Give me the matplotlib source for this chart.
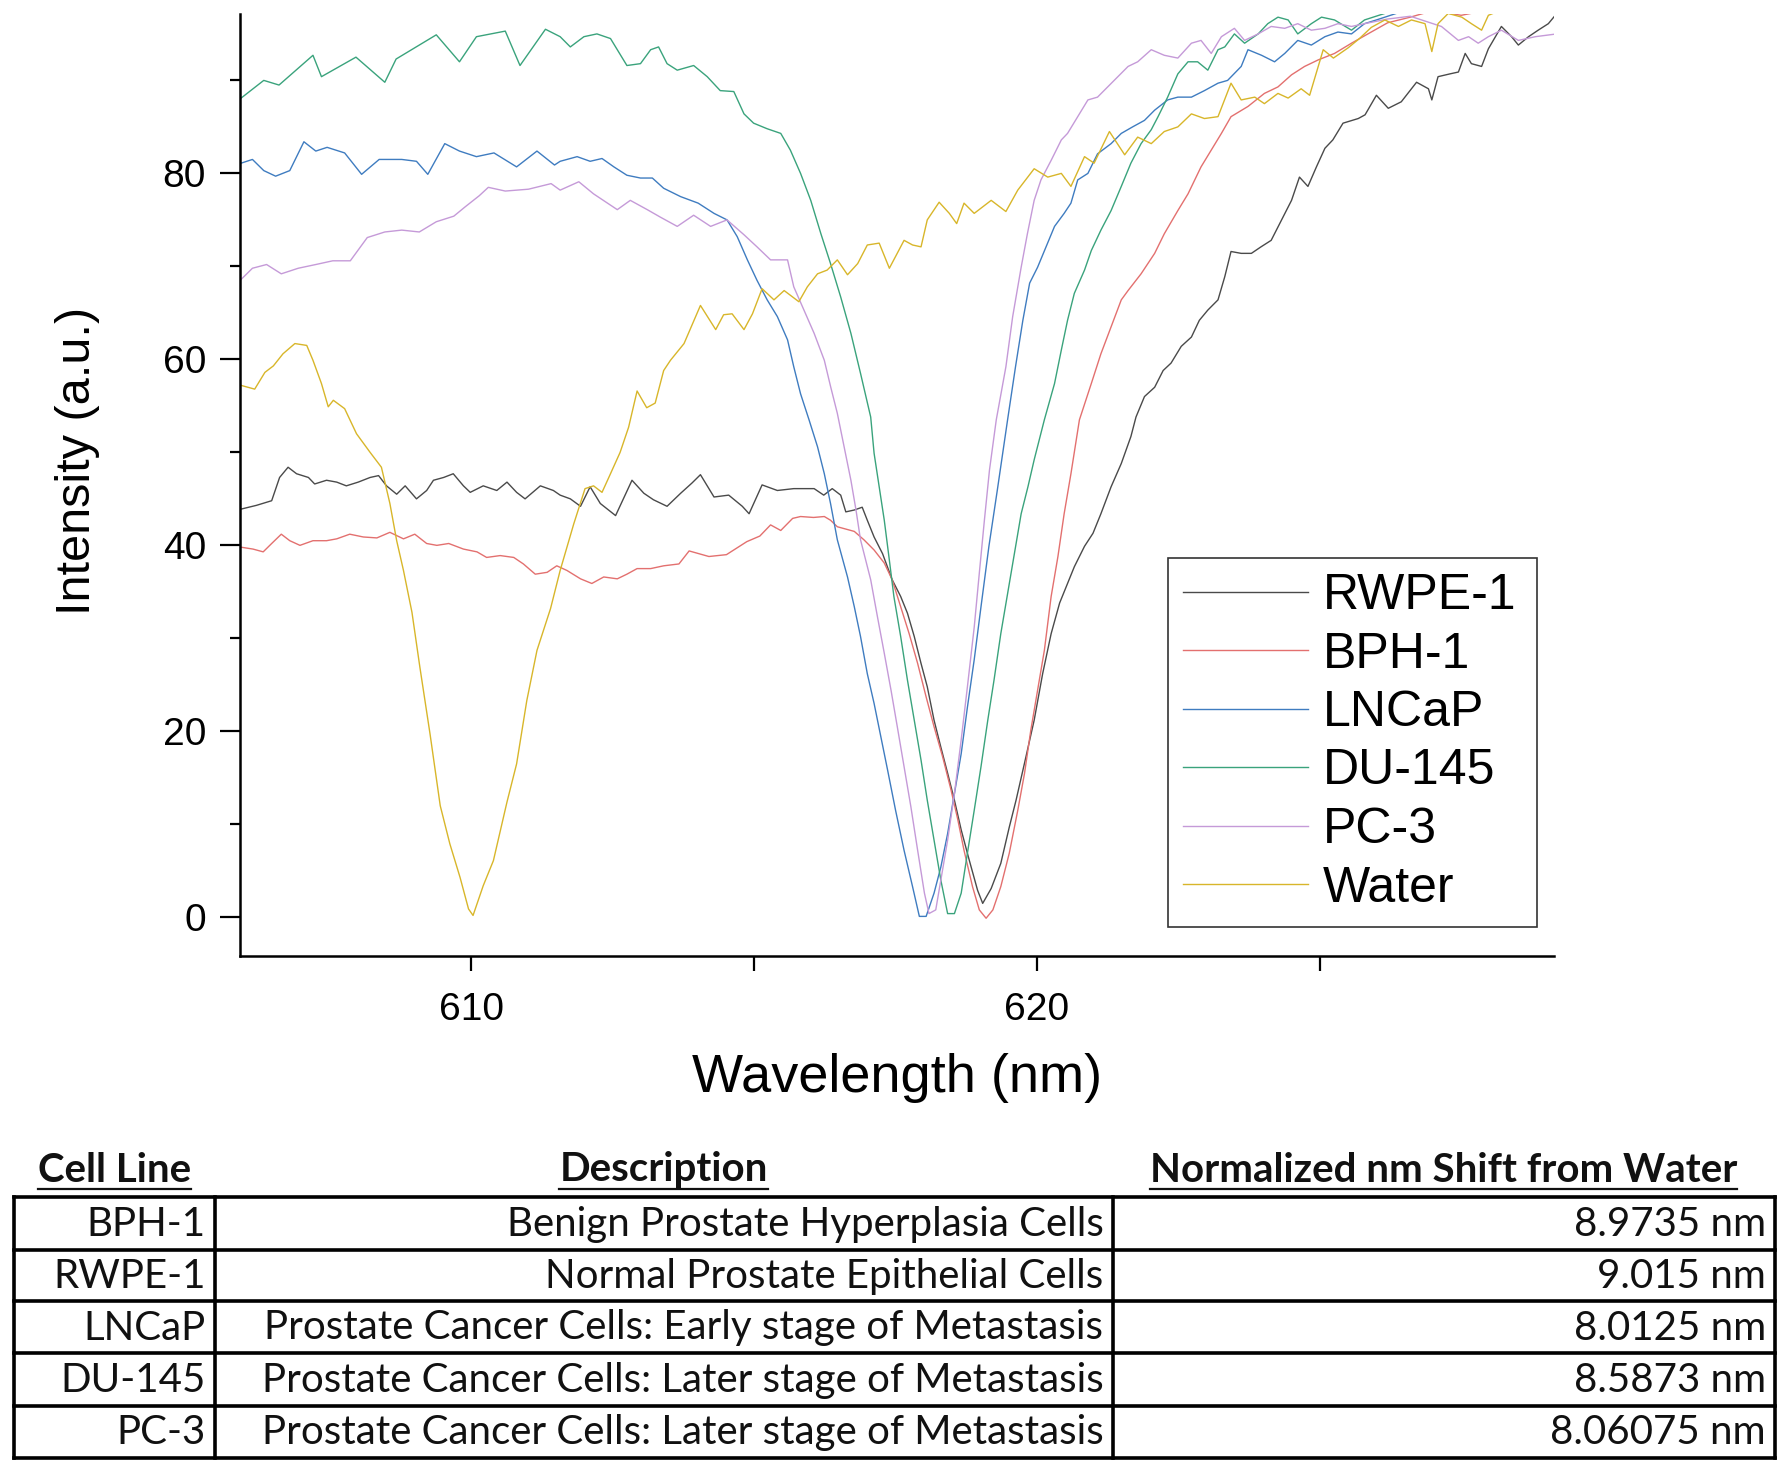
import matplotlib
matplotlib.use("Agg")
import matplotlib.pyplot as plt

plt.rcParams['font.family'] = ['Liberation Sans', 'DejaVu Sans']

# ---- spectra (wavelength nm, intensity a.u.) ----
wl_water = [605.93, 606.17, 606.35, 606.50, 606.67, 606.88, 607.09, 607.20, 607.35, 607.47,
            607.56, 607.76, 607.97, 608.21, 608.41, 608.56, 608.68, 608.80, 608.95, 609.09,
            609.27, 609.45, 609.62, 609.80, 609.95, 610.03, 610.21, 610.39, 610.63, 610.80,
            610.98, 611.16, 611.40, 611.57, 611.81, 612.01, 612.16, 612.31, 612.43, 612.63,
            612.78, 612.93, 613.10, 613.25, 613.40, 613.52, 613.76, 614.05, 614.32, 614.46,
            614.61, 614.82, 614.97, 615.14, 615.35, 615.53, 615.79, 615.94, 616.12, 616.29,
            616.47, 616.65, 616.83, 617.00, 617.21, 617.39, 617.65, 617.80, 617.95, 618.06,
            618.27, 618.45, 618.58, 618.71, 618.89, 619.19, 619.45, 619.66, 619.95, 620.19,
            620.43, 620.60, 620.84, 621.01, 621.28, 621.55, 621.78, 622.02, 622.25, 622.49,
            622.73, 622.96, 623.20, 623.43, 623.61, 623.85, 624.02, 624.26, 624.44, 624.67,
            624.82, 625.06, 625.24, 625.50, 625.70, 625.91, 626.15, 626.39, 626.62, 626.86,
            626.98, 627.09, 627.27, 627.51, 627.68, 627.86, 627.98, 628.22, 628.51, 628.81,
            629.19]
int_water = [57.2, 56.8, 58.6, 59.3, 60.6, 61.7, 61.5, 59.9, 57.4, 54.9,
             55.6, 54.7, 52.0, 50.0, 48.4, 44.5, 40.5, 37.3, 32.8, 26.9,
             19.7, 12.0, 7.9, 4.3, 0.9, 0.2, 3.4, 6.1, 12.4, 16.5,
             23.3, 28.7, 33.2, 37.3, 42.3, 46.1, 46.4, 45.7, 47.3, 50.0,
             52.7, 56.6, 54.8, 55.3, 58.8, 59.9, 61.7, 65.8, 63.2, 64.8,
             64.9, 63.2, 64.9, 67.6, 66.4, 67.4, 66.2, 67.8, 69.2, 69.6,
             70.7, 69.1, 70.3, 72.3, 72.5, 69.8, 72.8, 72.3, 72.1, 75.0,
             76.9, 75.7, 74.6, 76.8, 75.7, 77.1, 75.9, 78.2, 80.5, 79.6,
             80.0, 78.6, 81.8, 81.1, 84.5, 82.0, 83.9, 83.2, 84.5, 85.0,
             86.4, 85.9, 86.1, 89.7, 87.9, 88.2, 87.5, 88.6, 88.1, 89.1,
             88.4, 93.3, 92.4, 93.5, 94.5, 95.7, 96.5, 95.8, 96.5, 96.1,
             93.1, 96.1, 97.2, 96.8, 96.1, 95.4, 97.0, 97.6, 98.5, 98.0,
             98.5]

wl_rwpe = [605.93, 606.20, 606.47, 606.61, 606.76, 606.91, 607.12, 607.23, 607.44, 607.62,
           607.79, 608.00, 608.21, 608.36, 608.50, 608.68, 608.83, 609.03, 609.21, 609.33,
           609.51, 609.68, 609.86, 609.98, 610.21, 610.45, 610.63, 610.80, 610.95, 611.22,
           611.45, 611.57, 611.75, 611.93, 612.10, 612.28, 612.55, 612.84, 613.05, 613.22,
           613.46, 613.70, 613.90, 614.05, 614.29, 614.55, 614.79, 614.91, 615.14, 615.41,
           615.70, 616.06, 616.23, 616.38, 616.53, 616.62, 616.77, 616.91, 617.00, 617.12,
           617.27, 617.44, 617.59, 617.71, 617.83, 617.95, 618.06, 618.18, 618.30, 618.42,
           618.54, 618.66, 618.80, 618.95, 619.04, 619.19, 619.36, 619.51, 619.63, 619.78,
           619.95, 620.10, 620.25, 620.40, 620.54, 620.66, 620.84, 620.99, 621.13, 621.31,
           621.49, 621.66, 621.75, 621.90, 622.08, 622.23, 622.37, 622.55, 622.73, 622.87,
           623.02, 623.20, 623.32, 623.43, 623.61, 623.79, 623.96, 624.14, 624.29, 624.50,
           624.64, 624.79, 624.94, 625.09, 625.23, 625.41, 625.68, 625.80, 626.00, 626.21,
           626.44, 626.71, 626.92, 626.98, 627.09, 627.30, 627.45, 627.57, 627.68, 627.86,
           627.98, 628.21, 628.39, 628.51, 628.69, 628.86, 629.04, 629.19]
int_rwpe = [43.9, 44.3, 44.8, 47.3, 48.4, 47.7, 47.3, 46.6, 47.0, 46.8,
            46.4, 46.8, 47.3, 47.5, 46.4, 45.5, 46.4, 45.0, 45.9, 47.0,
            47.3, 47.7, 46.4, 45.7, 46.4, 45.9, 46.8, 45.7, 45.0, 46.4,
            45.9, 45.4, 45.0, 44.2, 46.3, 44.5, 43.2, 47.0, 45.6, 44.9,
            44.2, 45.6, 46.7, 47.6, 45.2, 45.4, 44.2, 43.4, 46.5, 45.9,
            46.1, 46.1, 45.4, 46.1, 45.4, 43.6, 43.8, 44.1, 42.7, 40.9,
            39.1, 36.3, 34.5, 32.7, 30.2, 27.3, 24.8, 21.2, 18.3, 15.5,
            12.6, 9.4, 6.2, 2.9, 1.5, 3.1, 5.8, 9.7, 12.6, 16.6,
            21.2, 26.2, 30.5, 33.8, 35.9, 37.7, 39.9, 41.3, 43.4, 46.3,
            48.8, 51.7, 53.8, 56.0, 57.0, 58.8, 59.6, 61.4, 62.4, 64.2,
            65.3, 66.4, 68.9, 71.6, 71.4, 71.4, 72.1, 72.8, 74.6, 77.1,
            79.6, 78.6, 80.7, 82.7, 83.6, 85.4, 85.9, 86.3, 88.4, 87.0,
            87.7, 89.8, 89.1, 87.9, 90.4, 90.7, 90.9, 92.9, 91.8, 91.5,
            93.4, 95.8, 94.7, 93.8, 94.7, 95.4, 96.1, 97.2]

wl_bph = [605.93, 606.14, 606.32, 606.47, 606.64, 606.79, 606.97, 607.20, 607.44, 607.62,
          607.85, 608.09, 608.33, 608.56, 608.80, 609.00, 609.21, 609.39, 609.60, 609.86,
          610.10, 610.27, 610.51, 610.75, 610.92, 611.13, 611.34, 611.51, 611.69, 611.93,
          612.13, 612.34, 612.58, 612.75, 612.93, 613.17, 613.40, 613.67, 613.85, 614.20,
          614.51, 614.87, 615.10, 615.29, 615.47, 615.68, 615.82, 616.05, 616.24, 616.35,
          616.47, 616.59, 616.77, 616.94, 617.12, 617.30, 617.44, 617.59, 617.74, 617.89,
          618.04, 618.18, 618.33, 618.48, 618.60, 618.71, 618.86, 618.98, 619.10, 619.22,
          619.36, 619.51, 619.66, 619.78, 619.89, 620.01, 620.13, 620.25, 620.37, 620.48,
          620.60, 620.75, 620.96, 621.13, 621.31, 621.49, 621.61, 621.84, 622.08, 622.25,
          622.49, 622.67, 622.90, 623.08, 623.26, 623.43, 623.73, 624.02, 624.26, 624.50,
          624.73, 624.97, 625.26, 625.56, 625.85, 626.20, 626.60, 627.00, 627.50, 628.00,
          628.50, 629.19]
int_bph = [39.8, 39.6, 39.3, 40.2, 41.2, 40.5, 40.0, 40.5, 40.5, 40.7,
           41.2, 40.9, 40.8, 41.4, 40.7, 41.2, 40.2, 40.0, 40.2, 39.6,
           39.3, 38.7, 38.9, 38.7, 38.0, 36.9, 37.1, 37.8, 37.3, 36.4,
           35.9, 36.6, 36.4, 36.9, 37.5, 37.5, 37.8, 38.0, 39.4, 38.8,
           39.0, 40.4, 41.0, 42.2, 41.6, 42.9, 43.1, 43.0, 43.1, 42.7,
           42.0, 41.8, 41.5, 40.6, 39.5, 38.1, 36.3, 33.4, 30.5, 27.3,
           23.7, 20.5, 17.3, 13.7, 10.5, 7.2, 3.3, 0.8, -0.1, 0.8,
           3.3, 6.9, 11.5, 15.5, 20.1, 24.4, 28.7, 34.5, 38.8, 43.4,
           47.7, 53.5, 57.4, 60.6, 63.5, 66.4, 67.4, 69.2, 71.4, 73.5,
           76.0, 77.8, 80.7, 82.5, 84.3, 86.1, 87.2, 88.6, 89.3, 90.6,
           91.5, 92.2, 92.9, 94.0, 95.0, 96.2, 96.8, 97.5, 97.0, 97.6,
           97.8, 98.0]

wl_lncap = [605.93, 606.13, 606.33, 606.54, 606.79, 607.04, 607.25, 607.45, 607.76, 608.06,
            608.37, 608.77, 609.03, 609.23, 609.53, 609.79, 610.09, 610.40, 610.80, 611.16,
            611.47, 611.57, 611.87, 612.10, 612.31, 612.52, 612.75, 612.99, 613.20, 613.40,
            613.70, 614.01, 614.29, 614.52, 614.70, 614.88, 615.05, 615.23, 615.41, 615.59,
            615.70, 615.82, 615.97, 616.12, 616.24, 616.35, 616.47, 616.65, 616.77, 616.88,
            617.00, 617.12, 617.24, 617.36, 617.50, 617.65, 617.80, 617.92, 618.04, 618.18,
            618.30, 618.42, 618.54, 618.66, 618.77, 618.89, 619.01, 619.15, 619.30, 619.48,
            619.62, 619.75, 619.87, 620.01, 620.16, 620.31, 620.48, 620.60, 620.72, 620.90,
            621.07, 621.31, 621.49, 621.69, 621.90, 622.08, 622.31, 622.49, 622.73, 622.96,
            623.20, 623.37, 623.61, 623.73, 623.97, 624.20, 624.38, 624.61, 624.85, 625.09,
            625.32, 625.56, 625.79, 626.00, 626.50, 627.00, 628.00, 629.19]
int_lncap = [81.1, 81.5, 80.3, 79.7, 80.3, 83.4, 82.4, 82.8, 82.2, 79.9,
             81.5, 81.5, 81.3, 79.9, 83.2, 82.4, 81.8, 82.2, 80.7, 82.4,
             80.9, 81.3, 81.8, 81.3, 81.6, 80.7, 79.8, 79.5, 79.5, 78.4,
             77.5, 76.8, 75.7, 75.0, 73.2, 70.7, 68.5, 66.4, 64.6, 62.1,
             59.2, 56.3, 53.5, 50.6, 47.7, 44.5, 40.6, 36.6, 33.4, 30.2,
             26.2, 23.0, 19.4, 15.8, 11.5, 7.2, 3.3, 0.1, 0.1, 2.6,
             5.4, 9.0, 13.3, 17.6, 22.6, 27.7, 33.4, 39.9, 46.0, 53.5,
             59.2, 64.2, 68.2, 69.9, 72.1, 74.3, 75.7, 76.8, 79.3, 80.0,
             82.1, 83.2, 84.3, 85.0, 85.7, 86.8, 87.9, 88.2, 88.2, 88.9,
             89.7, 90.0, 91.5, 93.3, 92.7, 92.0, 92.9, 94.3, 93.8, 94.7,
             95.2, 95.0, 96.1, 96.5, 97.5, 98.0, 98.5, 98.5]

wl_du145 = [605.93, 606.33, 606.60, 607.20, 607.35, 607.96, 608.47, 608.67, 609.38, 609.79,
            610.09, 610.60, 610.86, 611.31, 611.57, 611.75, 611.99, 612.22, 612.46, 612.75,
            612.99, 613.17, 613.31, 613.46, 613.64, 613.93, 614.17, 614.40, 614.64, 614.82,
            614.99, 615.23, 615.47, 615.64, 615.82, 616.00, 616.18, 616.35,
            616.53, 616.71, 616.88, 617.06, 617.12, 617.21, 617.30, 617.39, 617.47, 617.59,
            617.71, 617.83, 617.95, 618.06, 618.18, 618.30, 618.42, 618.54, 618.66, 618.77,
            618.89, 619.01, 619.13, 619.24, 619.36, 619.48, 619.60, 619.72, 619.84, 619.95,
            620.13, 620.31, 620.43, 620.54, 620.66, 620.84, 620.96, 621.13, 621.31, 621.49,
            621.66, 621.84, 622.02, 622.14, 622.31, 622.49, 622.67, 622.84, 623.02, 623.20,
            623.32, 623.49, 623.67, 623.91, 624.08, 624.26, 624.44, 624.61, 624.85, 625.03,
            625.26, 625.56, 625.79, 626.30, 627.00, 628.00, 629.19]
int_du145 = [88.1, 90.0, 89.5, 92.7, 90.4, 92.5, 89.8, 92.3, 94.9, 92.0,
             94.7, 95.3, 91.6, 95.5, 94.7, 93.6, 94.7, 95.0, 94.5, 91.6,
             91.8, 93.3, 93.6, 91.8, 91.1, 91.6, 90.4, 88.9, 88.8, 86.4,
             85.4, 84.8, 84.3, 82.5, 80.0, 77.1, 73.5, 70.3,
             66.7, 62.8, 58.5, 53.8, 49.9, 46.3, 42.7, 38.4, 34.5, 30.2,
             25.5, 21.2, 16.9, 12.6, 8.3, 4.0, 0.4, 0.4, 2.6, 6.9,
             11.5, 16.2, 21.2, 25.5, 30.5, 34.8, 39.1, 43.4, 46.3, 49.2,
             53.5, 57.4, 61.0, 64.2, 67.1, 69.6, 71.7, 73.9, 76.0, 78.6,
             81.1, 83.2, 84.7, 86.1, 88.2, 90.7, 92.0, 92.0, 91.1, 93.3,
             93.6, 95.0, 94.0, 95.0, 96.1, 96.8, 96.5, 95.0, 96.1, 96.8,
             96.5, 95.4, 96.5, 97.5, 98.5, 98.5, 98.5]

wl_pc3 = [605.93, 606.13, 606.38, 606.64, 606.94, 607.25, 607.55, 607.86, 608.16, 608.47,
          608.77, 609.08, 609.38, 609.69, 609.89, 610.14, 610.30, 610.60, 611.01, 611.41,
          611.57, 611.90, 612.16, 612.58, 612.81, 613.11, 613.34, 613.64, 613.93, 614.23,
          614.52, 614.82, 615.05, 615.29, 615.59, 615.70, 615.88, 616.06, 616.24, 616.35,
          616.47, 616.59, 616.71, 616.80, 616.88, 617.06, 617.18, 617.30, 617.42, 617.53,
          617.65, 617.77, 617.89, 618.01, 618.09, 618.21, 618.30, 618.42, 618.54, 618.66,
          618.77, 618.89, 618.98, 619.07, 619.16, 619.28, 619.45, 619.57, 619.72, 619.83,
          619.95, 620.07, 620.25, 620.43, 620.54, 620.72, 620.90, 621.07, 621.25, 621.43,
          621.61, 621.78, 622.02, 622.25, 622.49, 622.73, 622.90, 623.08, 623.26, 623.49,
          623.67, 623.91, 624.14, 624.38, 624.61, 624.85, 625.09, 625.32, 625.56, 625.79,
          626.20, 626.60, 626.90, 627.15, 627.45, 627.63, 627.80, 627.98, 628.21, 628.51,
          628.81, 629.19]
int_pc3 = [68.6, 69.8, 70.2, 69.2, 69.8, 70.2, 70.6, 70.6, 73.1, 73.7,
           73.9, 73.7, 74.8, 75.4, 76.4, 77.6, 78.5, 78.1, 78.3, 78.9,
           78.2, 79.1, 77.8, 76.1, 77.1, 76.1, 75.3, 74.3, 75.5, 74.3,
           75.0, 73.4, 72.1, 70.7, 70.7, 67.8, 65.3, 62.8, 59.9, 57.1,
           54.2, 50.6, 47.0, 43.8, 40.6, 36.3, 32.3, 28.4, 24.4, 20.5,
           16.2, 11.9, 7.2, 2.6, 0.4, 0.8, 4.0, 8.3, 13.3, 19.1,
           24.8, 31.2, 37.0, 42.7, 48.1, 53.5, 59.2, 64.6, 69.9, 73.5,
           77.1, 79.3, 81.4, 83.6, 84.3, 86.1, 87.9, 88.2, 89.3, 90.4,
           91.5, 92.0, 93.3, 92.7, 92.4, 94.0, 94.3, 92.9, 94.7, 95.6,
           94.3, 95.0, 95.8, 95.6, 96.1, 95.4, 95.6, 96.1, 95.8, 96.1,
           96.6, 96.9, 96.3, 95.8, 94.3, 94.7, 94.0, 94.7, 95.4, 94.3,
           94.7, 95.0]

# ---- table ----
cell_lines = ['BPH-1', 'RWPE-1', 'LNCaP', 'DU-145', 'PC-3']
descriptions = ['Benign Prostate Hyperplasia Cells',
                'Normal Prostate Epithelial Cells',
                'Prostate Cancer Cells: Early stage of Metastasis',
                'Prostate Cancer Cells: Later stage of Metastasis',
                'Prostate Cancer Cells: Later stage of Metastasis']
shifts = ['8.9735 nm', '9.015 nm', '8.0125 nm', '8.5873 nm', '8.06075 nm']
headers = ['Cell Line', 'Description', 'Normalized nm Shift from Water']

W, H = 1789, 1471
fig = plt.figure(figsize=(W / 100, H / 100), dpi=100)
ax = fig.add_axes([240 / W, 1 - 956 / H, (1554 - 240) / W, (956 - 14) / H])

series = [
    ('RWPE-1', wl_rwpe, int_rwpe, '#4a4a4a'),
    ('BPH-1', wl_bph, int_bph, '#e3706f'),
    ('LNCaP', wl_lncap, int_lncap, '#3f7cc0'),
    ('DU-145', wl_du145, int_du145, '#3aa37c'),
    ('PC-3', wl_pc3, int_pc3, '#c59ad8'),
    ('Water', wl_water, int_water, '#d8b62a'),
]
handles = []
for name, x, y, c in series:
    h, = ax.plot(x, y, color=c, lw=1.0, label=name)
    handles.append(h)

ax.set_xlim(605.91, 629.14)
ax.set_ylim(-4.16, 97.14)
for s in ['top', 'right']:
    ax.spines[s].set_visible(False)
for s in ['left', 'bottom']:
    ax.spines[s].set_linewidth(1.8)

ax.set_xticks([610, 615, 620, 625], ['610', '', '620', ''])
ax.set_yticks([0, 20, 40, 60, 80])
ax.set_yticks([10, 30, 50, 70, 90], minor=True)
ax.tick_params(axis='x', which='major', direction='out', length=10.8, width=1.6,
               labelsize=28, pad=15)
ax.tick_params(axis='y', which='major', direction='out', length=14.4, width=1.6,
               labelsize=28, pad=10)
ax.tick_params(axis='y', which='minor', direction='out', length=7.2, width=1.6)

fig.text(78 / W, 1 - 461 / H, 'Intensity (a.u.)', rotation=90, ha='center', va='center',
         fontsize=35)
fig.text(897 / W, 1 - 1078 / H, 'Wavelength (nm)', ha='center', va='center', fontsize=39)

# legend box: x 1168..1537, top at 558 (pixels from top)
leg = ax.legend(handles=handles, loc='upper left',
                bbox_to_anchor=(1168 / W, 1 - 928 / H, 369 / W, 370 / H),
                bbox_transform=fig.transFigure, mode='expand', borderaxespad=0,
                fontsize=36, handlelength=2.5, handletextpad=0.3, labelspacing=0.25,
                borderpad=0.3, fancybox=False, edgecolor='#333333', framealpha=1)
leg.get_frame().set_linewidth(1.2)

# ---- table drawn in pixel space ----
tab = fig.add_axes([0, 0, 1, 1], zorder=-1)
tab.set_xlim(0, W)
tab.set_ylim(H, 0)
tab.axis('off')

col_x = [14, 214.5, 1112.5, 1775]
row_y = [1197, 1249.5, 1301, 1353, 1405.5, 1458]
tlw = 2.6
for yy in row_y:
    tab.plot([col_x[0], col_x[-1]], [yy, yy], color='black', lw=tlw, solid_capstyle='projecting')
for xx in col_x:
    tab.plot([xx, xx], [row_y[0], row_y[-1]], color='black', lw=tlw, solid_capstyle='projecting')

tfont = ['Lato', 'DejaVu Sans']
tsize = 29
for i in range(len(cell_lines)):
    yc = (row_y[i] + row_y[i + 1]) / 2 + 1
    for j, txt in enumerate([cell_lines[i], descriptions[i], shifts[i]]):
        tab.text(col_x[j + 1] - 9, yc, txt, ha='right', va='center', fontsize=tsize,
                 family=tfont, color='#111111')

head_texts = []
for j, txt in enumerate(headers):
    xc = (col_x[j] + col_x[j + 1]) / 2
    t = tab.text(xc, 1170, txt, ha='center', va='center', fontsize=tsize,
                 family=tfont, fontweight='bold', color='#111111')
    head_texts.append(t)

fig.canvas.draw()
r = fig.canvas.get_renderer()
for t in head_texts:
    bb = t.get_window_extent(renderer=r)
    tab.plot([bb.x0, bb.x1], [1189, 1189], color='#111111', lw=1.6)

fig.savefig('out.png', dpi=100)
